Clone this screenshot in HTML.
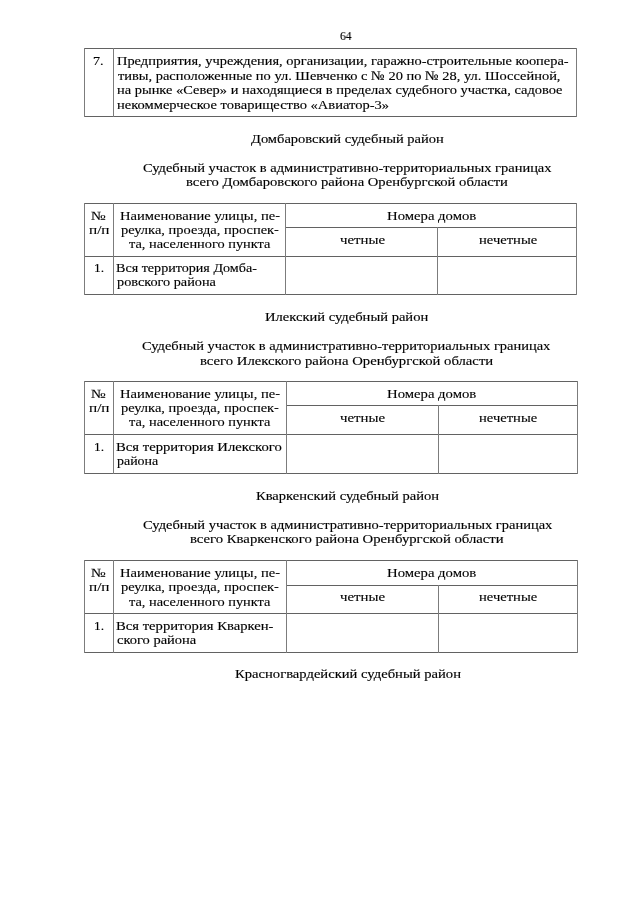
<!DOCTYPE html>
<html><head><meta charset="utf-8"><style>
html,body{margin:0;padding:0;background:#fff}
body{width:640px;height:905px;position:relative;overflow:hidden}
.t{position:absolute;white-space:nowrap;font-family:"Liberation Serif",serif;line-height:1;color:#000;transform-origin:0 0;will-change:transform}
.l{position:absolute;background:#626262}
.v{background:#7c7c7c}
</style></head><body>
<div class="t" style="left:340.00px;top:29.62px;font-size:12.4px;transform:scaleX(0.9231);-webkit-text-stroke:0.15px #000">64</div>
<div class="t" style="left:93.00px;top:53.98px;font-size:13.4px;transform:scaleX(1.0583);-webkit-text-stroke:0.15px #000">7.</div>
<div class="t" style="left:116.75px;top:53.98px;font-size:13.4px;transform:scaleX(1.0766);-webkit-text-stroke:0.15px #000">Предприятия, учреждения, организации, гаражно-строительные коопера-</div>
<div class="t" style="left:117.75px;top:68.58px;font-size:13.4px;transform:scaleX(1.0771);-webkit-text-stroke:0.15px #000">тивы, расположенные по ул. Шевченко с № 20 по № 28, ул. Шоссейной,</div>
<div class="t" style="left:116.75px;top:82.88px;font-size:13.4px;transform:scaleX(1.0777);-webkit-text-stroke:0.15px #000">на рынке «Север» и находящиеся в пределах судебного участка, садовое</div>
<div class="t" style="left:116.75px;top:97.68px;font-size:13.4px;transform:scaleX(1.0843);-webkit-text-stroke:0.15px #000">некоммерческое товарищество «Авиатор-3»</div>
<div class="t" style="left:251.00px;top:131.58px;font-size:13.4px;transform:scaleX(1.0820);-webkit-text-stroke:0.15px #000">Домбаровский судебный район</div>
<div class="t" style="left:142.50px;top:160.68px;font-size:13.4px;transform:scaleX(1.0794);-webkit-text-stroke:0.15px #000">Судебный участок в административно-территориальных границах</div>
<div class="t" style="left:185.50px;top:174.58px;font-size:13.4px;transform:scaleX(1.0915);-webkit-text-stroke:0.15px #000">всего Домбаровского района Оренбургской области</div>
<div class="t" style="left:91.00px;top:210.18px;font-size:12.8px;transform:scaleX(1.2186);-webkit-text-stroke:0.12px #000">№</div>
<div class="t" style="left:89.00px;top:224.03px;font-size:12.8px;transform:scaleX(1.1888);-webkit-text-stroke:0.12px #000">п/п</div>
<div class="t" style="left:119.50px;top:210.28px;font-size:12.8px;transform:scaleX(1.1381);-webkit-text-stroke:0.12px #000">Наименование улицы, пе-</div>
<div class="t" style="left:120.50px;top:224.03px;font-size:12.8px;transform:scaleX(1.1295);-webkit-text-stroke:0.12px #000">реулка, проезда, проспек-</div>
<div class="t" style="left:128.50px;top:238.38px;font-size:12.8px;transform:scaleX(1.1207);-webkit-text-stroke:0.12px #000">та, населенного пункта</div>
<div class="t" style="left:386.50px;top:210.28px;font-size:12.8px;transform:scaleX(1.1501);-webkit-text-stroke:0.12px #000">Номера домов</div>
<div class="t" style="left:339.50px;top:233.88px;font-size:12.8px;transform:scaleX(1.1591);-webkit-text-stroke:0.12px #000">четные</div>
<div class="t" style="left:479.00px;top:233.88px;font-size:12.8px;transform:scaleX(1.1393);-webkit-text-stroke:0.12px #000">нечетные</div>
<div class="t" style="left:94.00px;top:260.88px;font-size:13.4px;transform:scaleX(1.0051);-webkit-text-stroke:0.15px #000">1.</div>
<div class="t" style="left:116.25px;top:260.88px;font-size:13.4px;transform:scaleX(1.0531);-webkit-text-stroke:0.15px #000">Вся территория Домба-</div>
<div class="t" style="left:117.25px;top:275.28px;font-size:13.4px;transform:scaleX(1.0646);-webkit-text-stroke:0.15px #000">ровского района</div>
<div class="t" style="left:265.25px;top:309.78px;font-size:13.4px;transform:scaleX(1.0873);-webkit-text-stroke:0.15px #000">Илекский судебный район</div>
<div class="t" style="left:142.25px;top:338.78px;font-size:13.4px;transform:scaleX(1.0788);-webkit-text-stroke:0.15px #000">Судебный участок в административно-территориальных границах</div>
<div class="t" style="left:200.25px;top:354.38px;font-size:13.4px;transform:scaleX(1.0981);-webkit-text-stroke:0.15px #000">всего Илекского района Оренбургской области</div>
<div class="t" style="left:91.00px;top:388.48px;font-size:12.8px;transform:scaleX(1.2186);-webkit-text-stroke:0.12px #000">№</div>
<div class="t" style="left:89.00px;top:402.33px;font-size:12.8px;transform:scaleX(1.1888);-webkit-text-stroke:0.12px #000">п/п</div>
<div class="t" style="left:119.50px;top:387.58px;font-size:12.8px;transform:scaleX(1.1381);-webkit-text-stroke:0.12px #000">Наименование улицы, пе-</div>
<div class="t" style="left:120.50px;top:402.33px;font-size:12.8px;transform:scaleX(1.1295);-webkit-text-stroke:0.12px #000">реулка, проезда, проспек-</div>
<div class="t" style="left:128.50px;top:415.68px;font-size:12.8px;transform:scaleX(1.1207);-webkit-text-stroke:0.12px #000">та, населенного пункта</div>
<div class="t" style="left:386.50px;top:387.58px;font-size:12.8px;transform:scaleX(1.1501);-webkit-text-stroke:0.12px #000">Номера домов</div>
<div class="t" style="left:339.50px;top:412.18px;font-size:12.8px;transform:scaleX(1.1591);-webkit-text-stroke:0.12px #000">четные</div>
<div class="t" style="left:479.00px;top:412.18px;font-size:12.8px;transform:scaleX(1.1393);-webkit-text-stroke:0.12px #000">нечетные</div>
<div class="t" style="left:94.00px;top:439.58px;font-size:13.4px;transform:scaleX(1.0051);-webkit-text-stroke:0.15px #000">1.</div>
<div class="t" style="left:116.25px;top:439.58px;font-size:13.4px;transform:scaleX(1.0960);-webkit-text-stroke:0.15px #000">Вся территория Илекского</div>
<div class="t" style="left:117.25px;top:453.98px;font-size:13.4px;transform:scaleX(1.0414);-webkit-text-stroke:0.15px #000">района</div>
<div class="t" style="left:256.00px;top:488.78px;font-size:13.4px;transform:scaleX(1.0850);-webkit-text-stroke:0.15px #000">Кваркенский судебный район</div>
<div class="t" style="left:142.50px;top:517.68px;font-size:13.4px;transform:scaleX(1.0815);-webkit-text-stroke:0.15px #000">Судебный участок в административно-территориальных границах</div>
<div class="t" style="left:190.25px;top:531.58px;font-size:13.4px;transform:scaleX(1.0986);-webkit-text-stroke:0.15px #000">всего Кваркенского района Оренбургской области</div>
<div class="t" style="left:91.00px;top:566.58px;font-size:12.8px;transform:scaleX(1.2186);-webkit-text-stroke:0.12px #000">№</div>
<div class="t" style="left:89.00px;top:581.43px;font-size:12.8px;transform:scaleX(1.1888);-webkit-text-stroke:0.12px #000">п/п</div>
<div class="t" style="left:119.50px;top:566.68px;font-size:12.8px;transform:scaleX(1.1381);-webkit-text-stroke:0.12px #000">Наименование улицы, пе-</div>
<div class="t" style="left:120.50px;top:581.43px;font-size:12.8px;transform:scaleX(1.1295);-webkit-text-stroke:0.12px #000">реулка, проезда, проспек-</div>
<div class="t" style="left:128.50px;top:595.78px;font-size:12.8px;transform:scaleX(1.1207);-webkit-text-stroke:0.12px #000">та, населенного пункта</div>
<div class="t" style="left:386.50px;top:566.68px;font-size:12.8px;transform:scaleX(1.1501);-webkit-text-stroke:0.12px #000">Номера домов</div>
<div class="t" style="left:339.50px;top:591.28px;font-size:12.8px;transform:scaleX(1.1591);-webkit-text-stroke:0.12px #000">четные</div>
<div class="t" style="left:479.00px;top:591.28px;font-size:12.8px;transform:scaleX(1.1393);-webkit-text-stroke:0.12px #000">нечетные</div>
<div class="t" style="left:94.00px;top:618.68px;font-size:13.4px;transform:scaleX(1.0051);-webkit-text-stroke:0.15px #000">1.</div>
<div class="t" style="left:116.25px;top:618.68px;font-size:13.4px;transform:scaleX(1.0937);-webkit-text-stroke:0.15px #000">Вся территория Кваркен-</div>
<div class="t" style="left:117.25px;top:633.08px;font-size:13.4px;transform:scaleX(1.0823);-webkit-text-stroke:0.15px #000">ского района</div>
<div class="t" style="left:234.50px;top:666.58px;font-size:13.4px;transform:scaleX(1.0913);-webkit-text-stroke:0.15px #000">Красногвардейский судебный район</div>
<div class="l" style="left:84px;top:48px;width:493px;height:1px"></div>
<div class="l" style="left:84px;top:116px;width:493px;height:1px"></div>
<div class="l v" style="left:84px;top:48px;width:1px;height:69px"></div>
<div class="l v" style="left:113px;top:48px;width:1px;height:69px"></div>
<div class="l v" style="left:576px;top:48px;width:1px;height:69px"></div>
<div class="l" style="left:84px;top:203px;width:493px;height:1px"></div>
<div class="l" style="left:285px;top:227px;width:292px;height:1px"></div>
<div class="l" style="left:84px;top:256px;width:493px;height:1px"></div>
<div class="l" style="left:84px;top:294px;width:493px;height:1px"></div>
<div class="l v" style="left:84px;top:203px;width:1px;height:92px"></div>
<div class="l v" style="left:113px;top:203px;width:1px;height:92px"></div>
<div class="l v" style="left:285px;top:203px;width:1px;height:92px"></div>
<div class="l v" style="left:437px;top:227px;width:1px;height:68px"></div>
<div class="l v" style="left:576px;top:203px;width:1px;height:92px"></div>
<div class="l" style="left:84px;top:381px;width:494px;height:1px"></div>
<div class="l" style="left:286px;top:405px;width:292px;height:1px"></div>
<div class="l" style="left:84px;top:434px;width:494px;height:1px"></div>
<div class="l" style="left:84px;top:473px;width:494px;height:1px"></div>
<div class="l v" style="left:84px;top:381px;width:1px;height:93px"></div>
<div class="l v" style="left:113px;top:381px;width:1px;height:93px"></div>
<div class="l v" style="left:286px;top:381px;width:1px;height:93px"></div>
<div class="l v" style="left:438px;top:405px;width:1px;height:69px"></div>
<div class="l v" style="left:577px;top:381px;width:1px;height:93px"></div>
<div class="l" style="left:84px;top:560px;width:494px;height:1px"></div>
<div class="l" style="left:286px;top:585px;width:292px;height:1px"></div>
<div class="l" style="left:84px;top:613px;width:494px;height:1px"></div>
<div class="l" style="left:84px;top:652px;width:494px;height:1px"></div>
<div class="l v" style="left:84px;top:560px;width:1px;height:93px"></div>
<div class="l v" style="left:113px;top:560px;width:1px;height:93px"></div>
<div class="l v" style="left:286px;top:560px;width:1px;height:93px"></div>
<div class="l v" style="left:438px;top:585px;width:1px;height:68px"></div>
<div class="l v" style="left:577px;top:560px;width:1px;height:93px"></div>
</body></html>
